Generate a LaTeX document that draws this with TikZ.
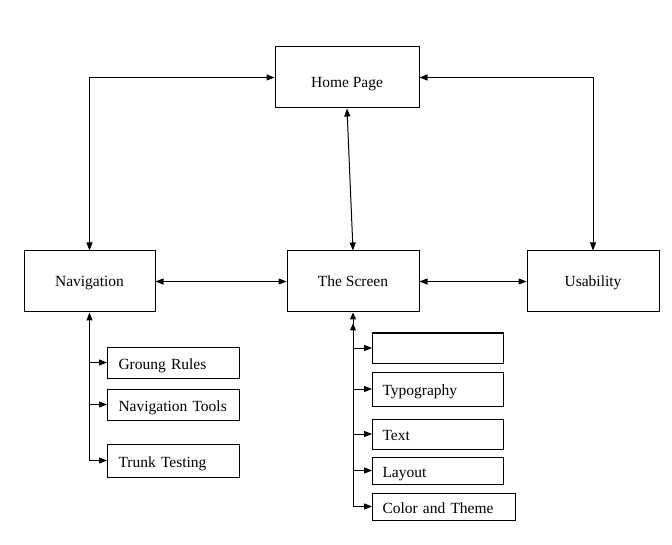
\documentclass[tikz,border=0pt]{standalone}
\usepackage{fontspec}
\setmainfont{Liberation Serif}
\usetikzlibrary{arrows.meta}
\tikzset{
  box/.style={draw, line width=1pt, inner sep=0pt, minimum height=#1, font=\fontsize{15.5}{18}\selectfont},
  mainbox/.style={box=61pt, minimum width=132pt, align=center, text height=12pt, text depth=2pt},
  subbox/.style={box=#1, anchor=west, align=left, text height=15pt, text depth=2pt},
  conn/.style={line width=1pt},
  tip/.tip={Triangle[length=8pt,width=6pt]},
  dtip/.tip={Triangle[length=7pt,width=6pt,sep=4pt]Triangle[length=7pt,width=6pt]}
}
\begin{document}
\begin{tikzpicture}[x=1pt,y=-1pt]
\useasboundingbox (0,0) rectangle (672,545);
\node[mainbox, minimum width=144pt, text height=22pt, text depth=1pt] (home) at (347,77.5) {Home Page};
\node[mainbox, minimum width=131pt] (nav) at (89.5,281.5) {Navigation};
\node[mainbox] (scr) at (353,281.5) {The Screen};
\node[mainbox] (usa) at (593,281.5) {Usability};
% Navigation children
\node[subbox=31pt, inner xsep=11pt, text width=110pt] (gr) at (107,362.5) {Groung Rules};
\node[subbox=31pt, inner xsep=11pt, text width=110pt] (nt) at (107,404.5) {Navigation Tools};
\node[subbox=33pt, inner xsep=11pt, text width=110pt] (tt) at (107,460.5) {Trunk Testing};
% Screen children
\node[subbox=30pt, inner xsep=10pt, text width=111pt] (e1) at (372,348) {};
\node[subbox=34pt, inner xsep=10pt, text width=111pt] (ty) at (372,389) {Typography};
\node[subbox=30pt, inner xsep=10pt, text width=111pt] (tx) at (372,434) {Text};
\node[subbox=27pt, inner xsep=10pt, text width=111pt] (la) at (372,470.5) {Layout};
\node[subbox=27pt, inner xsep=10pt, text width=123pt] (ct) at (372,506.5) {Color and Theme};
% main connectors
\draw[conn, tip-tip] (nav.north) |- (home.west);
\draw[conn, tip-tip] (home.east) -| (usa.north);
\draw[conn, tip-tip] (home.south) -- (scr.north);
\draw[conn, tip-tip] (nav.east) -- (scr.west);
\draw[conn, tip-tip] (scr.east) -- (usa.west);
% navigation tree
\draw[conn, tip-tip] (nav.south) |- (tt.west);
\draw[conn, -tip] (nav.south |- gr.west) -- (gr.west);
\draw[conn, -tip] (nav.south |- nt.west) -- (nt.west);
% screen tree
\draw[conn, dtip-tip] (scr.south) |- (ct.west);
\draw[conn, -tip] (scr.south |- e1.west) -- (e1.west);
\draw[conn, -tip] (scr.south |- ty.west) -- (ty.west);
\draw[conn, -tip] (scr.south |- tx.west) -- (tx.west);
\draw[conn, -tip] (scr.south |- la.west) -- (la.west);
\end{tikzpicture}
\end{document}
